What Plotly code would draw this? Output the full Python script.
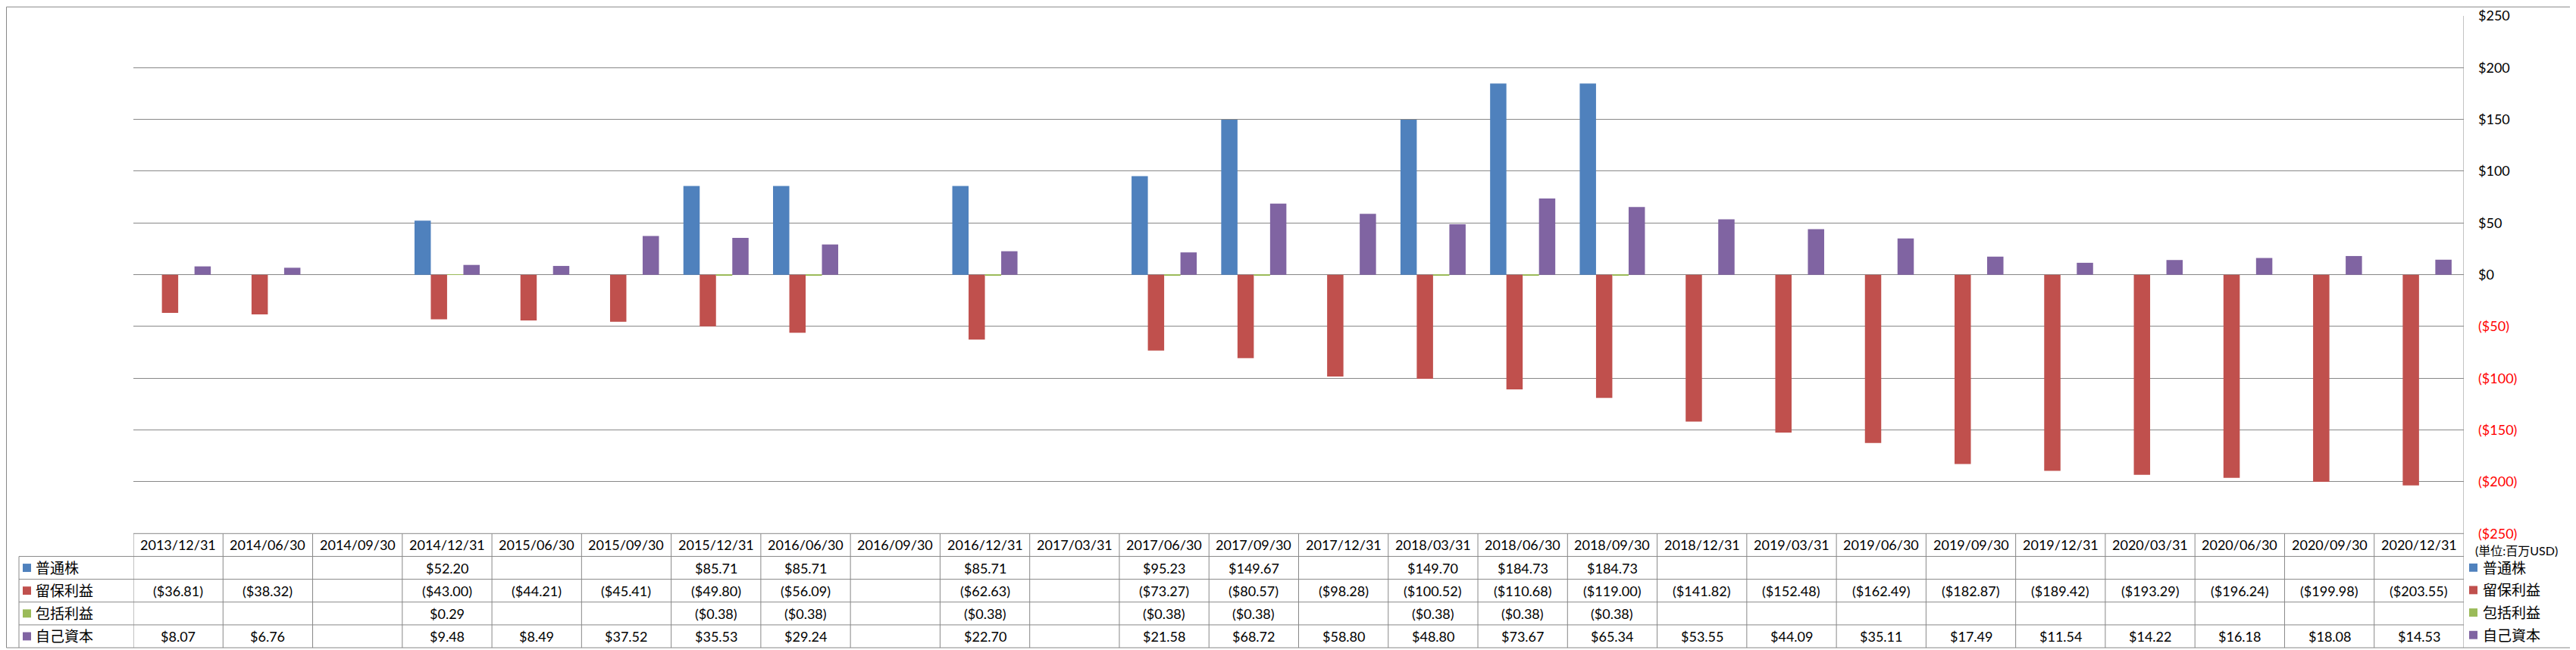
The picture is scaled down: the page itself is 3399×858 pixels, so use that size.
import plotly.graph_objects as go

# ---------------- data ----------------
categories = ["2013/12/31", "2014/06/30", "2014/09/30", "2014/12/31", "2015/06/30",
              "2015/09/30", "2015/12/31", "2016/06/30", "2016/09/30", "2016/12/31",
              "2017/03/31", "2017/06/30", "2017/09/30", "2017/12/31", "2018/03/31",
              "2018/06/30", "2018/09/30", "2018/12/31", "2019/03/31", "2019/06/30",
              "2019/09/30", "2019/12/31", "2020/03/31", "2020/06/30", "2020/09/30",
              "2020/12/31"]

common_stock = [None, None, None, 52.20, None, None, 85.71, 85.71, None, 85.71,
                None, 95.23, 149.67, None, 149.70, 184.73, 184.73, None, None, None,
                None, None, None, None, None, None]

retained_earnings = [-36.81, -38.32, None, -43.00, -44.21, -45.41, -49.80, -56.09, None, -62.63,
                     None, -73.27, -80.57, -98.28, -100.52, -110.68, -119.00, -141.82, -152.48, -162.49,
                     -182.87, -189.42, -193.29, -196.24, -199.98, -203.55]

comprehensive_income = [None, None, None, 0.29, None, None, -0.38, -0.38, None, -0.38,
                        None, -0.38, -0.38, None, -0.38, -0.38, -0.38, None, None, None,
                        None, None, None, None, None, None]

equity = [8.07, 6.76, None, 9.48, 8.49, 37.52, 35.53, 29.24, None, 22.70,
          None, 21.58, 68.72, 58.80, 48.80, 73.67, 65.34, 53.55, 44.09, 35.11,
          17.49, 11.54, 14.22, 16.18, 18.08, 14.53]

series_names = ["普通株", "留保利益", "包括利益", "自己資本"]
series_values = [common_stock, retained_earnings, comprehensive_income, equity]
series_colors = ["#4F81BD", "#C0504D", "#9BBB59", "#8064A2"]

y_tick_values = [250, 200, 150, 100, 50, 0, -50, -100, -150, -200, -250]
unit_label = "(単位:百万USD)"

# ---------------- layout helpers ----------------
W, H = 3399, 858
ML, MR, MT, MB = 168, 156, 13, 1
PW = W - ML - MR
PH = H - MT - MB
GRID = "#888888"
FONT = "Lato, 'Noto Sans CJK JP', sans-serif"
NUM_SIZE = 18
CJK_SIZE = 19


def px_x(px):
    return (px - ML) / PW


def px_y(py):
    return (H - MB - py) / PH


TABLE_TOP = 704.5
TABLE_BOTTOM = 857
ROW_H = (TABLE_BOTTOM - TABLE_TOP) / 5
LABEL_LEFT = 17


def row_center(r):  # r = 0 header, 1..4 series rows
    return TABLE_TOP + ROW_H * (r + 0.5)


def fmt(v):
    if v is None:
        return ""
    if v < 0:
        return f"(${-v:,.2f})"
    return f"${v:,.2f}"


def tick_text(v):
    if v < 0:
        return f"<span style='color:#FF0000'>(${-v})</span>"
    return f"${v}"


fig = go.Figure()
for name, vals, col in zip(series_names, series_values, series_colors):
    fig.add_trace(go.Bar(x=categories, y=vals, name=name, marker_color=col,
                         marker_line_width=0))

shapes = []
annotations = []

# outer chart frame
shapes.append(dict(type="rect", xref="paper", yref="paper",
                   x0=px_x(0.5), x1=px_x(W - 1), y0=px_y(H - 1), y1=px_y(1),
                   line=dict(color=GRID, width=1)))

# right axis line continuing through the table
shapes.append(dict(type="line", xref="x", yref="paper", x0=len(categories) - 0.5,
                   x1=len(categories) - 0.5, y0=px_y(TABLE_BOTTOM), y1=1,
                   line=dict(color=GRID, width=1)))

# table vertical lines
for i in range(len(categories)):
    shapes.append(dict(type="line", xref="x", yref="paper", x0=i - 0.5, x1=i - 0.5,
                       y0=px_y(TABLE_BOTTOM), y1=px_y(TABLE_TOP),
                       line=dict(color=GRID, width=1)))
shapes.append(dict(type="line", xref="paper", yref="paper", x0=px_x(LABEL_LEFT), x1=px_x(LABEL_LEFT),
                   y0=px_y(TABLE_BOTTOM), y1=px_y(TABLE_TOP + ROW_H),
                   line=dict(color=GRID, width=1)))
# table horizontal lines
shapes.append(dict(type="line", xref="x", yref="paper", x0=-0.5, x1=len(categories) - 0.5,
                   y0=px_y(TABLE_TOP), y1=px_y(TABLE_TOP), line=dict(color=GRID, width=1)))
for r in range(1, 5):
    yy = px_y(TABLE_TOP + ROW_H * r)
    shapes.append(dict(type="line", xref="paper", yref="paper", x0=px_x(LABEL_LEFT), x1=1,
                       y0=yy, y1=yy, line=dict(color=GRID, width=1)))

# header labels
for c in categories:
    annotations.append(dict(x=c, xref="x", xanchor="center", y=px_y(row_center(0)), yref="paper",
                            yanchor="middle", text=c, showarrow=False,
                            font=dict(size=NUM_SIZE, color="black")))

# rows of the data table (with legend keys) + legend on the right
LEGEND_Y = [750, 780, 810, 840]
for r, (name, vals, col) in enumerate(zip(series_names, series_values, series_colors), start=1):
    yc = row_center(r)
    shapes.append(dict(type="rect", xref="paper", yref="paper",
                       x0=px_x(22), x1=px_x(33), y0=px_y(yc + 5.5), y1=px_y(yc - 5.5),
                       fillcolor=col, line=dict(width=0)))
    annotations.append(dict(x=px_x(37), xref="paper", xanchor="left", y=px_y(yc), yref="paper",
                            yanchor="middle", text=name, showarrow=False,
                            font=dict(size=CJK_SIZE, color="black")))
    for c, v in zip(categories, vals):
        if v is None:
            continue
        annotations.append(dict(x=c, xref="x", xanchor="center", y=px_y(yc), yref="paper",
                                yanchor="middle", text=fmt(v), showarrow=False,
                                font=dict(size=NUM_SIZE, color="black")))
    # right-hand legend entry
    ly = LEGEND_Y[r - 1]
    shapes.append(dict(type="rect", xref="paper", yref="paper",
                       x0=px_x(3250), x1=px_x(3261), y0=px_y(ly + 5.5), y1=px_y(ly - 5.5),
                       fillcolor=col, line=dict(width=0)))
    annotations.append(dict(x=px_x(3266), xref="paper", xanchor="left", y=px_y(ly), yref="paper",
                            yanchor="middle", text=name, showarrow=False,
                            font=dict(size=CJK_SIZE, color="black")))

annotations.append(dict(x=px_x(3256), xref="paper", xanchor="left", y=px_y(727), yref="paper",
                        yanchor="middle", text=unit_label, showarrow=False,
                        font=dict(size=16, color="black")))

fig.update_layout(
    width=W, height=H,
    margin=dict(l=ML, r=MR, t=MT, b=MB),
    paper_bgcolor="white", plot_bgcolor="white",
    font=dict(family=FONT, color="black", size=NUM_SIZE),
    barmode="group", bargap=1.5 / 5.5, bargroupgap=0,
    showlegend=False,
    xaxis=dict(range=[-0.5, len(categories) - 0.5], showticklabels=False, showgrid=False,
               zeroline=False, showline=False, ticks=""),
    yaxis=dict(domain=[px_y(TABLE_TOP), 1], range=[-250, 250], side="right",
               tickvals=y_tick_values, ticktext=[tick_text(v) for v in y_tick_values],
               showgrid=True, gridcolor=GRID, gridwidth=1, zeroline=True, zerolinecolor=GRID,
               zerolinewidth=1, showline=False, ticks="", ticklabelstandoff=18,
               tickfont=dict(size=NUM_SIZE)),
    shapes=shapes, annotations=annotations,
)

fig.write_html("out.html")
